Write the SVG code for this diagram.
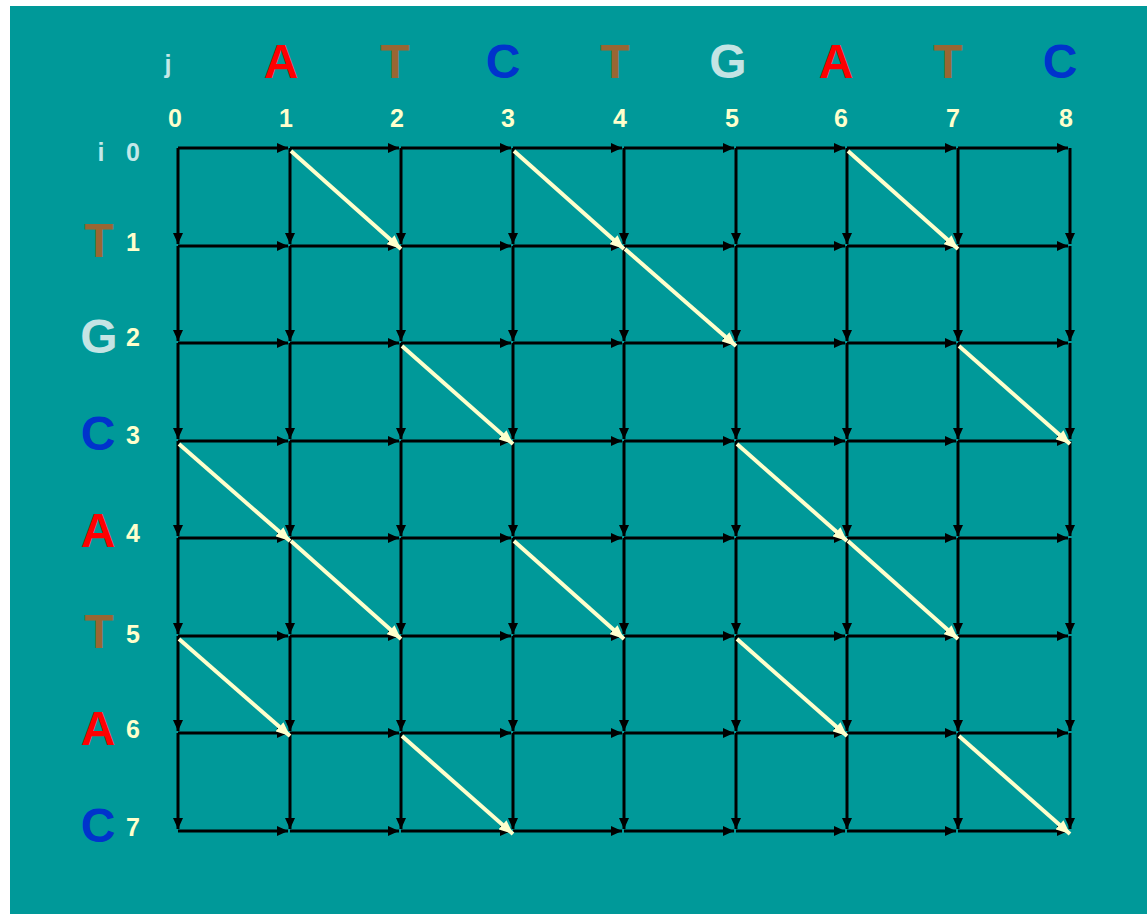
<svg xmlns="http://www.w3.org/2000/svg" xmlns:xlink="http://www.w3.org/1999/xlink" width="1147" height="914" viewBox="0 0 1147 914">
<style>
.bg{fill:#009999}
.let{font-family:"Liberation Sans",Arial,sans-serif;font-weight:bold;font-size:48px;text-anchor:middle}
.num{font-family:"Liberation Sans",Arial,sans-serif;font-weight:bold;font-size:25px;text-anchor:middle;fill:#FFFFCC}
.lbl{font-family:"Liberation Sans",Arial,sans-serif;font-weight:bold;font-size:25px;text-anchor:middle;fill:#C4E8E8}
.A{fill:#FF0000}.T{fill:#996633}.C{fill:#0033CC}.G{fill:#C4E4E4}
.e{stroke:#000;stroke-width:3;fill:none;marker-end:url(#ah)}
.d{stroke:#FFFFCC;stroke-width:4;fill:none;marker-end:url(#dh)}
</style>
<defs>
<marker id="ah" markerUnits="userSpaceOnUse" markerWidth="11" markerHeight="10" refX="11" refY="5" orient="auto"><path d="M0,0 L11,5 L0,10 z" fill="#000"/></marker>
<marker id="dh" markerUnits="userSpaceOnUse" markerWidth="14" markerHeight="12" refX="14" refY="6" orient="auto"><path d="M0,0 L14,6 L0,12 z" fill="#FFFFCC"/></marker>
<g id="hrow">
<line class="e" x1="178" y1="0" x2="288" y2="0"/>
<line class="e" x1="290" y1="0" x2="399" y2="0"/>
<line class="e" x1="401" y1="0" x2="511" y2="0"/>
<line class="e" x1="513" y1="0" x2="622" y2="0"/>
<line class="e" x1="624" y1="0" x2="734" y2="0"/>
<line class="e" x1="736" y1="0" x2="845" y2="0"/>
<line class="e" x1="847" y1="0" x2="956" y2="0"/>
<line class="e" x1="958" y1="0" x2="1068" y2="0"/>
</g>
<g id="vcol">
<line class="e" x1="0" y1="148" x2="0" y2="244"/>
<line class="e" x1="0" y1="246" x2="0" y2="341"/>
<line class="e" x1="0" y1="343" x2="0" y2="439"/>
<line class="e" x1="0" y1="441" x2="0" y2="536"/>
<line class="e" x1="0" y1="538" x2="0" y2="634"/>
<line class="e" x1="0" y1="636" x2="0" y2="731"/>
<line class="e" x1="0" y1="733" x2="0" y2="829"/>
</g>
</defs>
<rect class="bg" x="10" y="6" width="1137" height="908"/>
<g id="col-labels">
<text class="lbl" x="168" y="73">j</text>
<text class="let A" x="281" y="78">A</text>
<text class="let T" x="395" y="78">T</text>
<text class="let C" x="503" y="78">C</text>
<text class="let T" x="615" y="78">T</text>
<text class="let G" x="728" y="78">G</text>
<text class="let A" x="836" y="78">A</text>
<text class="let T" x="948" y="78">T</text>
<text class="let C" x="1060" y="78">C</text>
</g>
<g id="col-numbers">
<text class="num" x="175" y="127">0</text>
<text class="num" x="286" y="127">1</text>
<text class="num" x="397" y="127">2</text>
<text class="num" x="508" y="127">3</text>
<text class="num" x="620" y="127">4</text>
<text class="num" x="732" y="127">5</text>
<text class="num" x="841" y="127">6</text>
<text class="num" x="953" y="127">7</text>
<text class="num" x="1066" y="127">8</text>
</g>
<g id="row-labels">
<text class="lbl" x="101" y="161">i</text>
<text class="lbl" x="133" y="161">0</text>
<text class="let T" x="99" y="257">T</text>
<text class="let G" x="99" y="353">G</text>
<text class="let C" x="98" y="450">C</text>
<text class="let A" x="98" y="547">A</text>
<text class="let T" x="99" y="648">T</text>
<text class="let A" x="98" y="745">A</text>
<text class="let C" x="98" y="842">C</text>
</g>
<g id="row-numbers">
<text class="num" x="133" y="251">1</text>
<text class="num" x="133" y="346">2</text>
<text class="num" x="133" y="444">3</text>
<text class="num" x="133" y="542">4</text>
<text class="num" x="133" y="643">5</text>
<text class="num" x="133" y="738">6</text>
<text class="num" x="133" y="836">7</text>
</g>
<g id="connectors">
<use xlink:href="#hrow" href="#hrow" y="148"/>
<use xlink:href="#hrow" href="#hrow" y="246"/>
<use xlink:href="#hrow" href="#hrow" y="343"/>
<use xlink:href="#hrow" href="#hrow" y="441"/>
<use xlink:href="#hrow" href="#hrow" y="538"/>
<use xlink:href="#hrow" href="#hrow" y="636"/>
<use xlink:href="#hrow" href="#hrow" y="733"/>
<use xlink:href="#hrow" href="#hrow" y="831"/>
<use xlink:href="#vcol" href="#vcol" x="178"/>
<use xlink:href="#vcol" href="#vcol" x="290"/>
<use xlink:href="#vcol" href="#vcol" x="401"/>
<use xlink:href="#vcol" href="#vcol" x="513"/>
<use xlink:href="#vcol" href="#vcol" x="624"/>
<use xlink:href="#vcol" href="#vcol" x="736"/>
<use xlink:href="#vcol" href="#vcol" x="847"/>
<use xlink:href="#vcol" href="#vcol" x="958"/>
<use xlink:href="#vcol" href="#vcol" x="1070"/>
<line class="d" x1="291" y1="151" x2="401" y2="249"/>
<line class="d" x1="514" y1="151" x2="624" y2="249"/>
<line class="d" x1="848" y1="151" x2="958" y2="249"/>
<line class="d" x1="625" y1="249" x2="736" y2="346"/>
<line class="d" x1="402" y1="346" x2="513" y2="444"/>
<line class="d" x1="959" y1="346" x2="1070" y2="444"/>
<line class="d" x1="179" y1="444" x2="290" y2="541"/>
<line class="d" x1="737" y1="444" x2="847" y2="541"/>
<line class="d" x1="291" y1="541" x2="401" y2="639"/>
<line class="d" x1="514" y1="541" x2="624" y2="639"/>
<line class="d" x1="848" y1="541" x2="958" y2="639"/>
<line class="d" x1="179" y1="639" x2="290" y2="736"/>
<line class="d" x1="737" y1="639" x2="847" y2="736"/>
<line class="d" x1="402" y1="736" x2="513" y2="834"/>
<line class="d" x1="959" y1="736" x2="1070" y2="834"/>
</g>
</svg>
